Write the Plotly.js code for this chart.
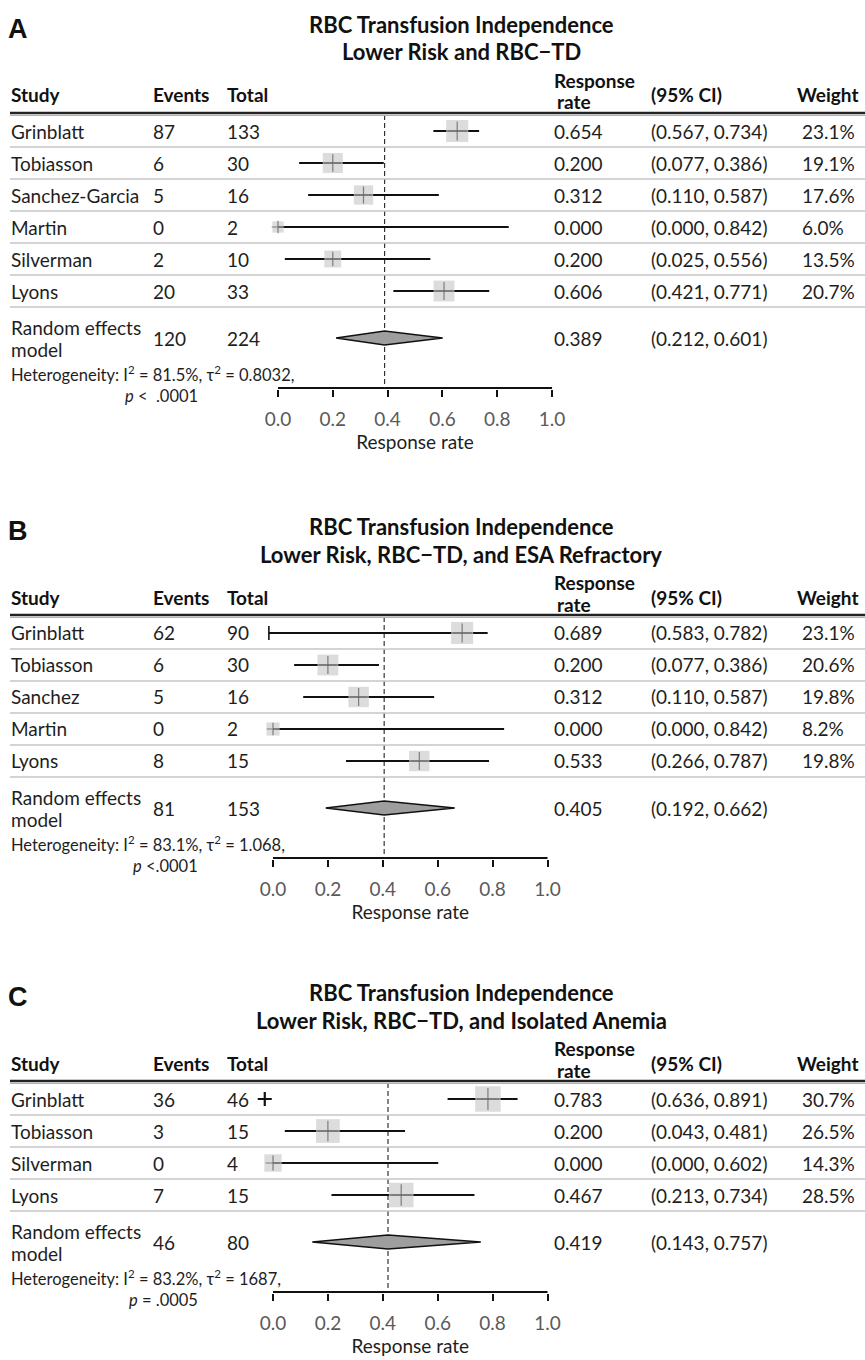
<!DOCTYPE html>
<html><head><meta charset="utf-8">
<script src="https://cdn.plot.ly/plotly-3.0.1.min.js"></script>
<style>html,body{margin:0;padding:0;background:#fff}#chart{width:865px;height:1360px}</style>
</head><body><div id="chart"></div>
<script>
// ---------------- data ----------------
const tickValues = [0, 0.2, 0.4, 0.6, 0.8, 1.0];
const axisTitle = 'Response rate';
const headerLabels = ['Study', 'Events', 'Total', 'Response', 'rate', '(95% CI)', 'Weight'];
const pooledLabel = ['Random effects', 'model'];
const panelLetters = ['A', 'B', 'C'];

// Panel A
const titlesA = ['RBC Transfusion Independence', 'Lower Risk and RBC\u2212TD'];
const studiesA = ['Grinblatt', 'Tobiasson', 'Sanchez-Garcia', 'Martin', 'Silverman', 'Lyons'];
const eventsA = [87, 6, 5, 0, 2, 20];
const totalsA = [133, 30, 16, 2, 10, 33];
const ratesA = [0.654, 0.200, 0.312, 0.000, 0.200, 0.606];
const lowerA = [0.567, 0.077, 0.110, 0.000, 0.025, 0.421];
const upperA = [0.734, 0.386, 0.587, 0.842, 0.556, 0.771];
const weightsA = [23.1, 19.1, 17.6, 6.0, 13.5, 20.7];
const pooledA = [120, 224, 0.389, 0.212, 0.601];      // events, total, estimate, lower, upper
const hetA = ['81.5%', '0.8032', '<  .0001'];           // I2, tau2, p

// Panel B
const titlesB = ['RBC Transfusion Independence', 'Lower Risk, RBC\u2212TD, and ESA Refractory'];
const studiesB = ['Grinblatt', 'Tobiasson', 'Sanchez', 'Martin', 'Lyons'];
const eventsB = [62, 6, 5, 0, 8];
const totalsB = [90, 30, 16, 2, 15];
const ratesB = [0.689, 0.200, 0.312, 0.000, 0.533];
const lowerB = [0.583, 0.077, 0.110, 0.000, 0.266];
const upperB = [0.782, 0.386, 0.587, 0.842, 0.787];
const weightsB = [23.1, 20.6, 19.8, 8.2, 19.8];
const pooledB = [81, 153, 0.405, 0.192, 0.662];
const hetB = ['83.1%', '1.068', '<.0001'];
// stray mark drawn in the original panel B (Grinblatt): whisker reaching down to ~0
const strayB = {study: 'Grinblatt', from: -0.015, to: 0.583};

// Panel C
const titlesC = ['RBC Transfusion Independence', 'Lower Risk, RBC\u2212TD, and Isolated Anemia'];
const studiesC = ['Grinblatt', 'Tobiasson', 'Silverman', 'Lyons'];
const eventsC = [36, 3, 0, 7];
const totalsC = [46, 15, 4, 15];
const ratesC = [0.783, 0.200, 0.000, 0.467];
const lowerC = [0.636, 0.043, 0.000, 0.213];
const upperC = [0.891, 0.481, 0.602, 0.734];
const weightsC = [30.7, 26.5, 14.3, 28.5];
const pooledC = [46, 80, 0.419, 0.143, 0.757];
const hetC = ['83.2%', '1687', '= .0005'];
// stray "+" drawn in the original panel C (Grinblatt row)
const strayC = {study: 'Grinblatt', at: -0.03};

// ---------------- layout constants ----------------
const W = 865, H = 1360, ROW = 32;
const FONT = 'Lato, "Open Sans", sans-serif';
const TXT = '#1e1e1e';
const COL = {study: 10, events: 152, total: 226, rate: 553, ci: 650, weightHead: 796, weight: 801};
const geoms = [
  {firstRow: 131, x0: 278, x1: 552},
  {firstRow: 633, x0: 273, x1: 547.5},
  {firstRow: 1099, x0: 273, x1: 547.5}
];

const panels = [
  {titles: titlesA, studies: studiesA, events: eventsA, totals: totalsA, rates: ratesA, lower: lowerA, upper: upperA, weights: weightsA, pooled: pooledA, het: hetA},
  {titles: titlesB, studies: studiesB, events: eventsB, totals: totalsB, rates: ratesB, lower: lowerB, upper: upperB, weights: weightsB, pooled: pooledB, het: hetB, strayLine: strayB},
  {titles: titlesC, studies: studiesC, events: eventsC, totals: totalsC, rates: ratesC, lower: lowerC, upper: upperC, weights: weightsC, pooled: pooledC, het: hetC, strayPlus: strayC}
];

const traces = [], annotations = [], shapes = [];
const layout = {
  width: W, height: H, margin: {l: 0, r: 0, t: 0, b: 0},
  paper_bgcolor: '#fff', plot_bgcolor: 'rgba(0,0,0,0)',
  showlegend: false, font: {family: FONT, color: TXT, size: 19},
  annotations, shapes
};

const px = (x) => x / W;
const py = (y) => 1 - y / H;

function ann(text, x, y, opts) {
  annotations.push(Object.assign({
    text, x, y, xref: 'paper', yref: 'paper', showarrow: false, borderpad: 0,
    xanchor: 'left', yanchor: 'middle', font: {family: FONT, size: 19, color: TXT}
  }, opts || {}));
}

panels.forEach((d, p) => {
  const g = geoms[p];
  const xa = 'x' + (p ? p + 1 : ''), ya = 'y' + (p ? p + 1 : '');
  const xaKey = 'xaxis' + (p ? p + 1 : ''), yaKey = 'yaxis' + (p ? p + 1 : '');
  const n = d.studies.length;
  const rows = d.studies.map((s, i) => i + 1);
  const summaryRow = n + 1.47;
  const axisRow = summaryRow + 50 / ROW;
  const topRow = 0.375, botRow = axisRow + 0.04;
  const rowPx = (r) => g.firstRow + ROW * (r - 1);
  const pad = 0.05, span = g.x1 - g.x0;

  layout[xaKey] = {
    domain: [(g.x0 - pad * span) / W, (g.x1 + pad * span) / W],
    range: [-pad, 1 + pad], anchor: ya,
    showgrid: false, zeroline: false, showline: false,
    tickmode: 'array', tickvals: tickValues, ticktext: tickValues.map(v => v.toFixed(1)),
    ticks: 'outside', ticklen: 7, tickwidth: 2, tickcolor: '#111',
    tickfont: {family: FONT, size: 19, color: '#5a5a5a'}, ticklabelstandoff: 6,
    title: {text: axisTitle, font: {family: FONT, size: 19, color: TXT}, standoff: 6},
    fixedrange: true
  };
  layout[yaKey] = {
    domain: [py(rowPx(botRow)), py(rowPx(topRow))],
    range: [botRow, topRow], anchor: xa, visible: false, fixedrange: true
  };

  // axis baseline from first to last tick
  traces.push({type: 'scatter', mode: 'lines', xaxis: xa, yaxis: ya, hoverinfo: 'skip',
    x: [tickValues[0], tickValues[tickValues.length - 1]], y: [axisRow, axisRow],
    line: {color: '#111', width: 2}});

  // dashed line at the pooled estimate
  traces.push({type: 'scatter', mode: 'lines', xaxis: xa, yaxis: ya, hoverinfo: 'skip',
    x: [d.pooled[2], d.pooled[2]], y: [0.5, axisRow],
    line: {color: '#333', width: 1.2, dash: '5px,3px'}});

  // confidence interval whiskers
  const cx = [], cy = [];
  d.studies.forEach((s, i) => { cx.push(d.lower[i], d.upper[i], null); cy.push(rows[i], rows[i], null); });
  if (d.strayLine) {
    const r = d.studies.indexOf(d.strayLine.study) + 1;
    cx.push(d.strayLine.from, d.strayLine.to, null); cy.push(r, r, null);
  }
  traces.push({type: 'scatter', mode: 'lines', xaxis: xa, yaxis: ya, hoverinfo: 'skip',
    x: cx, y: cy, line: {color: '#111', width: 2.2}});

  // weight boxes
  const sizes = d.weights.map(w => 4.6 * Math.sqrt(w));
  traces.push({type: 'scatter', mode: 'markers', xaxis: xa, yaxis: ya, cliponaxis: false,
    x: d.rates, y: rows,
    marker: {symbol: 'square', size: sizes, color: '#cdcdcd', line: {width: 0}}});
  // point estimate cross
  traces.push({type: 'scatter', mode: 'markers', xaxis: xa, yaxis: ya, cliponaxis: false,
    x: d.rates, y: rows,
    marker: {symbol: 'cross-thin', size: sizes.map(s => Math.max(9, s * 0.62)), color: '#555',
      line: {color: '#555', width: 1.2}}});
  if (d.strayLine) {
    const r = d.studies.indexOf(d.strayLine.study) + 1;
    traces.push({type: 'scatter', mode: 'markers', xaxis: xa, yaxis: ya, cliponaxis: false,
      x: [d.strayLine.from], y: [r],
      marker: {symbol: 'line-ns', size: 10, line: {color: '#111', width: 1.6}}});
  }
  if (d.strayPlus) {
    const r = d.studies.indexOf(d.strayPlus.study) + 1;
    traces.push({type: 'scatter', mode: 'markers', xaxis: xa, yaxis: ya, cliponaxis: false,
      x: [d.strayPlus.at], y: [r],
      marker: {symbol: 'cross-thin', size: 10, line: {color: '#111', width: 2.2}}});
  }

  // pooled diamond
  const h = 7 / ROW, pe = d.pooled;
  traces.push({type: 'scatter', mode: 'lines', xaxis: xa, yaxis: ya, hoverinfo: 'skip',
    x: [pe[3], pe[2], pe[4], pe[2], pe[3]],
    y: [summaryRow, summaryRow - h, summaryRow, summaryRow + h, summaryRow],
    fill: 'toself', fillcolor: '#9e9e9e', line: {color: '#111', width: 1.5}});

  // header rules and row separators
  shapes.push({type: 'line', xref: 'paper', yref: ya, x0: px(COL.study), x1: 1,
    y0: 1 - 18 / ROW, y1: 1 - 18 / ROW, line: {color: '#222', width: 2.4}});
  shapes.push({type: 'line', xref: 'paper', yref: ya, x0: px(COL.study), x1: 1,
    y0: 1 - 15.5 / ROW, y1: 1 - 15.5 / ROW, line: {color: '#b0b0b0', width: 1.2}});
  rows.forEach(r => shapes.push({type: 'line', xref: 'paper', yref: ya, x0: px(COL.study), x1: 1,
    y0: r + 0.5, y1: r + 0.5, line: {color: '#c6c6c6', width: 1.6}}));

  // panel letter and titles
  ann('<b>' + panelLetters[p] + '</b>', px(7), py(g.firstRow - 102),
    {font: {family: 'Liberation Sans, Arial, sans-serif', size: 27, color: '#111'}});
  ann('<b>' + d.titles[0] + '</b>', px(461), py(g.firstRow - 107), {xanchor: 'center', font: {family: FONT, size: 22, color: '#111'}});
  ann('<b>' + d.titles[1] + '</b>', px(461), py(g.firstRow - 79), {xanchor: 'center', font: {family: FONT, size: 22, color: '#111'}});

  // column headers
  const hy = g.firstRow - 36;
  const hf = {family: FONT, size: 19, color: '#111'};
  ann('<b>' + headerLabels[0] + '</b>', px(COL.study), py(hy), {font: hf});
  ann('<b>' + headerLabels[1] + '</b>', px(COL.events), py(hy), {font: hf});
  ann('<b>' + headerLabels[2] + '</b>', px(COL.total), py(hy), {font: hf});
  ann('<b>' + headerLabels[3] + '</b>', px(COL.rate), py(g.firstRow - 51), {font: hf, yanchor: 'middle'});
  ann('<b>' + headerLabels[4] + '</b>', px(COL.rate + 3), py(g.firstRow - 29), {font: hf, yanchor: 'middle'});
  ann('<b>' + headerLabels[5] + '</b>', px(COL.ci), py(hy), {font: hf});
  ann('<b>' + headerLabels[6] + '</b>', px(COL.weightHead), py(hy), {font: hf});

  // study rows
  d.studies.forEach((s, i) => {
    const o = {yref: ya};
    ann(s, px(COL.study), rows[i], o);
    ann(String(d.events[i]), px(COL.events), rows[i], o);
    ann(String(d.totals[i]), px(COL.total), rows[i], o);
    ann(d.rates[i].toFixed(3), px(COL.rate), rows[i], o);
    ann('(' + d.lower[i].toFixed(3) + ', ' + d.upper[i].toFixed(3) + ')', px(COL.ci), rows[i], o);
    ann(d.weights[i].toFixed(1) + '%', px(COL.weight), rows[i], o);
  });

  // pooled row
  const o = {yref: ya};
  ann(pooledLabel[0], px(COL.study), summaryRow - 11 / ROW, o);
  ann(pooledLabel[1], px(COL.study), summaryRow + 11 / ROW, o);
  ann(String(pe[0]), px(COL.events), summaryRow, o);
  ann(String(pe[1]), px(COL.total), summaryRow, o);
  ann(pe[2].toFixed(3), px(COL.rate), summaryRow, o);
  ann('(' + pe[3].toFixed(3) + ', ' + pe[4].toFixed(3) + ')', px(COL.ci), summaryRow, o);

  // heterogeneity
  const sPx = rowPx(summaryRow);
  ann('Heterogeneity: I<sup>2</sup> = ' + d.het[0] + ', \u03c4<sup>2</sup> = ' + d.het[1] + ',',
    px(COL.study), py(sPx + 36), {font: {family: FONT, size: 16.5, color: TXT}});
  ann('<i>p</i> ' + d.het[2], px(199), py(sPx + 58), {xanchor: 'right', font: {family: FONT, size: 16.5, color: TXT}});
});

Plotly.newPlot('chart', traces, layout, {staticPlot: true, displayModeBar: false});
</script>
</body></html>
